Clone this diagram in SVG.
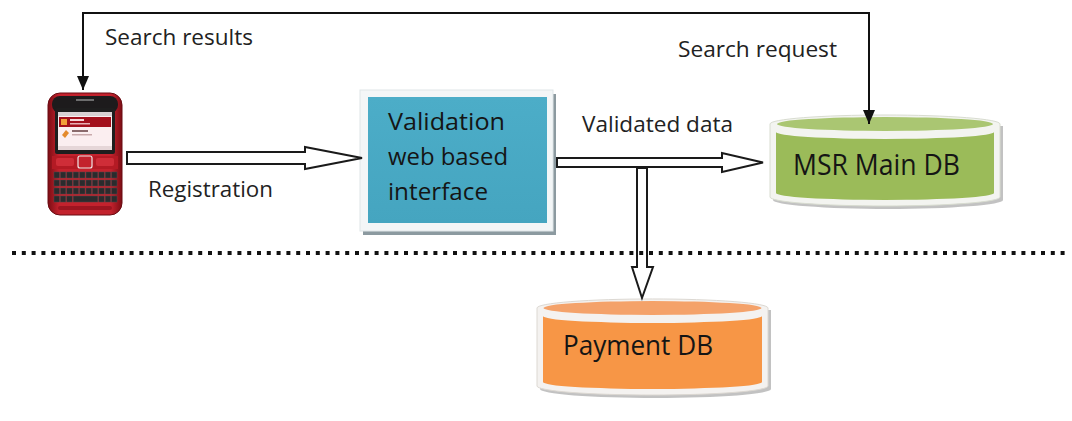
<svg xmlns="http://www.w3.org/2000/svg" width="1072" height="421" viewBox="0 0 1072 421">
  <defs>
    <style>
      .lbl { font-family: "Open Sans", "Liberation Sans", sans-serif; font-size: 22px; fill: #222; }
      .big { font-family: "Open Sans", "Liberation Sans", sans-serif; fill: #151515; }
      .line { fill: none; stroke: #111; stroke-width: 2; }
      .block { fill: #fff; stroke: #1a1a1a; stroke-width: 2; stroke-linejoin: miter; }
      .key { fill: #2b2b2d; stroke: #4a4a4c; stroke-width: 0.5; }
    </style>
    <marker id="head" viewBox="0 0 14 12" refX="14" refY="6" markerWidth="14" markerHeight="12" markerUnits="userSpaceOnUse" orient="auto">
      <path d="M0,0 L14,6 L0,12 Z" fill="#111"/>
    </marker>
    <linearGradient id="phoneBody" x1="0" y1="0" x2="1" y2="0">
      <stop offset="0" stop-color="#7c0d14"/>
      <stop offset="0.15" stop-color="#c3222d"/>
      <stop offset="0.85" stop-color="#c3222d"/>
      <stop offset="1" stop-color="#7c0d14"/>
    </linearGradient>
    <linearGradient id="teal" x1="0" y1="0" x2="0" y2="1">
      <stop offset="0" stop-color="#4cadc8"/>
      <stop offset="1" stop-color="#45a5c0"/>
    </linearGradient>
  </defs>

  <rect width="1072" height="421" fill="#fff"/>

  <!-- mobile handset -->
  <g id="phone">
    <rect x="48" y="93" width="74" height="122" rx="12" fill="url(#phoneBody)" stroke="#6a0b12" stroke-width="1"/>
    <rect x="52" y="96" width="66" height="17" rx="8" fill="#1d1b1c"/>
    <rect x="76" y="99" width="18" height="2" fill="#6d6d6d"/>
    <rect x="55" y="108" width="60" height="46" rx="2" fill="#1e1e1e"/>
    <rect x="58" y="112" width="54" height="38" fill="#fbeef0"/>
    <rect x="58" y="112" width="54" height="4" fill="#d8d0d2"/>
    <rect x="59" y="117" width="52" height="10" fill="#a3101c"/>
    <rect x="61" y="119" width="6" height="6" fill="#f2a03a"/>
    <rect x="70" y="119" width="14" height="2" fill="#f6d6d8"/>
    <rect x="70" y="123" width="20" height="1.5" fill="#e8b0b4"/>
    <path d="M62,135 l4,-5 l3,3 l-4,5 z" fill="#e48a2c"/>
    <rect x="72" y="130" width="16" height="2" fill="#8a6a6c"/>
    <rect x="72" y="134" width="20" height="1.5" fill="#c9a9ab"/>
    <rect x="58" y="146" width="54" height="4" fill="#e6d6d8"/>
    <rect x="52" y="156" width="66" height="13" fill="#b41a24"/>
    <rect x="56" y="158" width="18" height="8" rx="2" fill="#cf2d38"/>
    <rect x="96" y="158" width="18" height="8" rx="2" fill="#cf2d38"/>
    <rect x="78" y="156" width="14" height="12" rx="2" fill="#c3222d" stroke="#f0e6e6" stroke-width="1.2"/>
    <g>
      <rect class="key" x="54" y="172" width="5.4" height="6"/>
      <rect class="key" x="60.4" y="172" width="5.4" height="6"/>
      <rect class="key" x="66.8" y="172" width="5.4" height="6"/>
      <rect class="key" x="73.2" y="172" width="5.4" height="6"/>
      <rect class="key" x="79.6" y="172" width="5.4" height="6"/>
      <rect class="key" x="86" y="172" width="5.4" height="6"/>
      <rect class="key" x="92.4" y="172" width="5.4" height="6"/>
      <rect class="key" x="98.8" y="172" width="5.4" height="6"/>
      <rect class="key" x="105.2" y="172" width="5.4" height="6"/>
      <rect class="key" x="111.6" y="172" width="5.4" height="6"/>
      <rect class="key" x="54" y="180" width="5.4" height="6"/>
      <rect class="key" x="60.4" y="180" width="5.4" height="6"/>
      <rect class="key" x="66.8" y="180" width="5.4" height="6"/>
      <rect class="key" x="73.2" y="180" width="5.4" height="6"/>
      <rect class="key" x="79.6" y="180" width="5.4" height="6"/>
      <rect class="key" x="86" y="180" width="5.4" height="6"/>
      <rect class="key" x="92.4" y="180" width="5.4" height="6"/>
      <rect class="key" x="98.8" y="180" width="5.4" height="6"/>
      <rect class="key" x="105.2" y="180" width="5.4" height="6"/>
      <rect class="key" x="111.6" y="180" width="5.4" height="6"/>
      <rect class="key" x="54" y="188" width="5.4" height="6"/>
      <rect class="key" x="60.4" y="188" width="5.4" height="6"/>
      <rect class="key" x="66.8" y="188" width="5.4" height="6"/>
      <rect class="key" x="73.2" y="188" width="5.4" height="6"/>
      <rect class="key" x="79.6" y="188" width="5.4" height="6"/>
      <rect class="key" x="86" y="188" width="5.4" height="6"/>
      <rect class="key" x="92.4" y="188" width="5.4" height="6"/>
      <rect class="key" x="98.8" y="188" width="5.4" height="6"/>
      <rect class="key" x="105.2" y="188" width="5.4" height="6"/>
      <rect class="key" x="111.6" y="188" width="5.4" height="6"/>
      <rect class="key" x="54" y="196" width="5.4" height="6"/>
      <rect class="key" x="60.4" y="196" width="5.4" height="6"/>
      <rect class="key" x="66.8" y="196" width="5.4" height="6"/>
      <rect class="key" x="73.2" y="196" width="24.6" height="6"/>
      <rect class="key" x="98.8" y="196" width="5.4" height="6"/>
      <rect class="key" x="105.2" y="196" width="5.4" height="6"/>
      <rect class="key" x="111.6" y="196" width="5.4" height="6"/>
    </g>
    <rect x="58" y="206" width="54" height="4" rx="2" fill="#9c1520"/>
  </g>

  <!-- validation interface box -->
  <g id="validation">
    <rect x="363" y="94" width="193" height="141" fill="#8c9aa0"/>
    <rect x="360" y="90" width="193" height="141" fill="#f3f6f7" stroke="#dfe6e8" stroke-width="1"/>
    <rect x="368" y="97" width="179" height="126" fill="url(#teal)"/>
    <text class="big" font-size="23" x="388" y="130" textLength="117" lengthAdjust="spacingAndGlyphs">Validation</text>
    <text class="big" font-size="23" x="388" y="165" textLength="120" lengthAdjust="spacingAndGlyphs">web based</text>
    <text class="big" font-size="23" x="388" y="200" textLength="100" lengthAdjust="spacingAndGlyphs">interface</text>
  </g>

  <!-- main database cylinder -->
  <g id="msr-db">
    <path d="M773,126 V200 A115,9 0 0 0 1003,200 V126 Z" fill="#9a9a9a" opacity="0.6"/>
    <path d="M770,124 V197 A115,9 0 0 0 1000,197 V124 A115,9 0 0 0 770,124 Z" fill="#f3f4f0" stroke="#d8dcd0" stroke-width="1"/>
    <path d="M776,132 V193 A109,7 0 0 0 994,193 V132 A109,7 0 0 1 776,132 Z" fill="#9bbb59"/>
    <ellipse cx="885" cy="124" rx="108" ry="7" fill="#aac672"/>
    <text class="big" font-size="29" x="793" y="175" textLength="167" lengthAdjust="spacingAndGlyphs">MSR Main DB</text>
  </g>

  <!-- payment database cylinder -->
  <g id="payment-db">
    <path d="M540,310 V389 A115,9 0 0 0 771,389 V310 Z" fill="#9a9a9a" opacity="0.6"/>
    <path d="M537,308 V386 A115,9 0 0 0 768,386 V308 A115,9 0 0 0 537,308 Z" fill="#f4f2f0" stroke="#dcd8d2" stroke-width="1"/>
    <path d="M543,316 V382 A109,7 0 0 0 762,382 V316 A109,7 0 0 1 543,316 Z" fill="#f79646"/>
    <ellipse cx="652.5" cy="308" rx="109" ry="7" fill="#f4a26a"/>
    <text class="big" font-size="27" x="563" y="355" textLength="150" lengthAdjust="spacingAndGlyphs">Payment DB</text>
  </g>

  <!-- flows between components -->
  <g id="connectors">
    <path class="line" d="M869,112 V13 H83 V90" marker-end="url(#head)"/>
    <path class="line" d="M869,13 V124" marker-end="url(#head)"/>
    <polygon class="block" points="127,152 305,152 305,147 362,158 305,169 305,164 127,164"/>
    <polygon class="block" points="557,158 722,158 722,153 763,162.5 722,172 722,167 557,167"/>
    <polygon class="block" points="637,168 647,168 647,267 653,267 642,298 632,267 637,267"/>
    <text class="lbl" x="105" y="45" textLength="148" lengthAdjust="spacingAndGlyphs">Search results</text>
    <text class="lbl" x="678" y="57" textLength="159" lengthAdjust="spacingAndGlyphs">Search request</text>
    <text class="lbl" x="582" y="132" textLength="151" lengthAdjust="spacingAndGlyphs">Validated data</text>
    <text class="lbl" x="148" y="197" textLength="125" lengthAdjust="spacingAndGlyphs">Registration</text>
  </g>

  <!-- boundary separator -->
  <line x1="12" y1="253" x2="1068" y2="253" stroke="#111" stroke-width="4" stroke-dasharray="4 5.8"/>
</svg>
